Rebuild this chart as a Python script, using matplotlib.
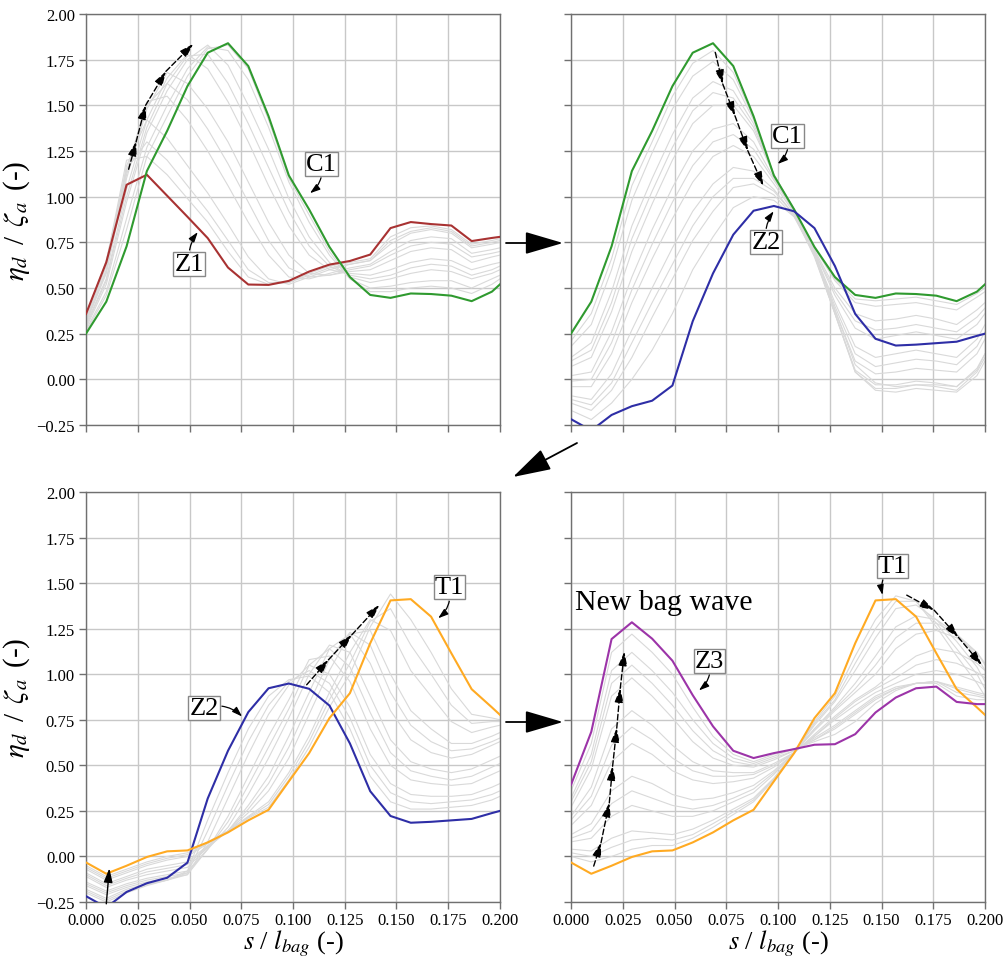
import matplotlib
matplotlib.use('Agg')
import matplotlib.pyplot as plt
from matplotlib.patches import FancyArrowPatch

plt.rcParams['font.family'] = ['Liberation Serif', 'DejaVu Serif']
plt.rcParams['mathtext.fontset'] = 'stix'

# ---------------- data ----------------
s = [0.0, 0.0098, 0.0196, 0.0294, 0.0392, 0.0490, 0.0588, 0.0686, 0.0784, 0.0882,
     0.0980, 0.1078, 0.1176, 0.1275, 0.1373, 0.1471, 0.1569, 0.1667, 0.1765, 0.1863,
     0.1961, 0.2000]

Z1 = [0.358, 0.641, 1.065, 1.12, 1.005, 0.89, 0.773, 0.612, 0.519, 0.517, 0.539,
      0.59, 0.628, 0.648, 0.683, 0.828, 0.861, 0.85, 0.842, 0.757, 0.774, 0.78]
C1 = [0.25, 0.425, 0.728, 1.14, 1.36, 1.605, 1.788, 1.84, 1.715, 1.44, 1.116,
      0.93, 0.725, 0.56, 0.462, 0.446, 0.47, 0.467, 0.458, 0.428, 0.48, 0.52]
Z2 = [-0.218, -0.28, -0.195, -0.147, -0.117, -0.034, 0.318, 0.58, 0.792, 0.923, 0.949,
      0.92, 0.828, 0.62, 0.358, 0.222, 0.185, 0.19, 0.198, 0.206, 0.238, 0.25]
T1 = [-0.033, -0.095, -0.051, -0.003, 0.028, 0.033, 0.077, 0.132, 0.198, 0.256, 0.412,
      0.567, 0.759, 0.896, 1.17, 1.405, 1.412, 1.316, 1.115, 0.918, 0.818, 0.777]
Z3 = [0.393, 0.684, 1.193, 1.285, 1.195, 1.074, 0.885, 0.714, 0.58, 0.54, 0.567,
      0.589, 0.613, 0.616, 0.671, 0.79, 0.872, 0.923, 0.932, 0.848, 0.836, 0.836]

grey_p1 = [
    [0.34, 0.64, 1.20, 1.22, 1.12, 0.99, 0.86, 0.70, 0.56, 0.52, 0.53, 0.58, 0.62, 0.64, 0.66, 0.78, 0.83, 0.84, 0.82, 0.74, 0.76, 0.77],
    [0.35, 0.65, 1.15, 1.30, 1.20, 1.06, 0.92, 0.76, 0.60, 0.53, 0.53, 0.57, 0.61, 0.63, 0.65, 0.76, 0.81, 0.83, 0.81, 0.73, 0.75, 0.76],
    [0.33, 0.62, 1.17, 1.42, 1.32, 1.17, 1.02, 0.85, 0.67, 0.55, 0.52, 0.56, 0.60, 0.63, 0.65, 0.74, 0.80, 0.82, 0.80, 0.72, 0.74, 0.75],
    [0.32, 0.60, 1.14, 1.52, 1.55, 1.42, 1.25, 1.06, 0.86, 0.68, 0.56, 0.55, 0.58, 0.61, 0.63, 0.70, 0.76, 0.78, 0.77, 0.69, 0.71, 0.72],
    [0.31, 0.59, 1.12, 1.50, 1.62, 1.53, 1.37, 1.18, 0.97, 0.76, 0.61, 0.56, 0.57, 0.60, 0.62, 0.68, 0.73, 0.75, 0.74, 0.67, 0.69, 0.70],
    [0.31, 0.58, 1.10, 1.48, 1.68, 1.62, 1.48, 1.30, 1.08, 0.86, 0.68, 0.58, 0.57, 0.59, 0.60, 0.65, 0.70, 0.72, 0.71, 0.64, 0.67, 0.68],
    [0.30, 0.55, 1.04, 1.42, 1.65, 1.78, 1.70, 1.52, 1.30, 1.06, 0.84, 0.68, 0.60, 0.58, 0.57, 0.60, 0.64, 0.66, 0.65, 0.60, 0.63, 0.64],
    [0.29, 0.54, 1.00, 1.38, 1.62, 1.77, 1.78, 1.62, 1.40, 1.16, 0.92, 0.73, 0.62, 0.57, 0.55, 0.57, 0.61, 0.63, 0.62, 0.57, 0.60, 0.62],
    [0.28, 0.52, 0.97, 1.35, 1.58, 1.75, 1.83, 1.72, 1.50, 1.26, 0.99, 0.78, 0.64, 0.56, 0.53, 0.55, 0.58, 0.60, 0.59, 0.55, 0.58, 0.60],
    [0.27, 0.48, 0.88, 1.27, 1.50, 1.70, 1.82, 1.80, 1.64, 1.38, 1.08, 0.86, 0.68, 0.55, 0.50, 0.51, 0.53, 0.54, 0.54, 0.50, 0.55, 0.57],
    [0.26, 0.46, 0.82, 1.22, 1.44, 1.66, 1.81, 1.83, 1.70, 1.42, 1.10, 0.90, 0.70, 0.55, 0.48, 0.48, 0.50, 0.51, 0.50, 0.47, 0.52, 0.55],
]
grey_p2 = [
    [0.21, 0.36, 0.66, 1.06, 1.30, 1.55, 1.73, 1.80, 1.68, 1.43, 1.12, 0.93, 0.72, 0.55, 0.44, 0.43, 0.44, 0.45, 0.43, 0.41, 0.47, 0.50],
    [0.18, 0.30, 0.60, 0.98, 1.24, 1.48, 1.66, 1.74, 1.64, 1.42, 1.12, 0.93, 0.72, 0.54, 0.42, 0.40, 0.41, 0.42, 0.40, 0.38, 0.45, 0.48],
    [0.12, 0.20, 0.48, 0.84, 1.10, 1.34, 1.54, 1.63, 1.58, 1.40, 1.12, 0.93, 0.71, 0.50, 0.36, 0.32, 0.33, 0.35, 0.33, 0.30, 0.38, 0.42],
    [0.10, 0.16, 0.42, 0.77, 1.03, 1.27, 1.47, 1.57, 1.54, 1.38, 1.12, 0.93, 0.70, 0.48, 0.32, 0.27, 0.28, 0.30, 0.28, 0.26, 0.34, 0.39],
    [0.07, 0.12, 0.37, 0.70, 0.96, 1.20, 1.40, 1.50, 1.50, 1.36, 1.12, 0.92, 0.70, 0.46, 0.28, 0.22, 0.24, 0.26, 0.24, 0.22, 0.30, 0.36],
    [0.02, 0.04, 0.26, 0.56, 0.82, 1.05, 1.25, 1.37, 1.40, 1.30, 1.10, 0.92, 0.69, 0.42, 0.18, 0.12, 0.14, 0.16, 0.14, 0.12, 0.22, 0.30],
    [-0.01, 0.00, 0.20, 0.49, 0.74, 0.97, 1.17, 1.30, 1.34, 1.26, 1.09, 0.92, 0.69, 0.40, 0.14, 0.07, 0.09, 0.11, 0.10, 0.08, 0.18, 0.26],
    [-0.04, -0.04, 0.14, 0.42, 0.66, 0.88, 1.08, 1.22, 1.28, 1.22, 1.07, 0.91, 0.68, 0.38, 0.10, 0.03, 0.04, 0.06, 0.05, 0.04, 0.14, 0.22],
    [-0.09, -0.11, 0.03, 0.27, 0.50, 0.72, 0.92, 1.07, 1.16, 1.14, 1.04, 0.90, 0.67, 0.36, 0.05, -0.03, -0.03, -0.01, -0.02, -0.04, 0.06, 0.14],
    [-0.11, -0.14, -0.02, 0.20, 0.42, 0.63, 0.84, 1.00, 1.10, 1.10, 1.03, 0.90, 0.68, 0.36, 0.04, -0.05, -0.05, -0.03, -0.04, -0.06, 0.04, 0.12],
    [-0.13, -0.17, -0.06, 0.12, 0.34, 0.55, 0.76, 0.92, 1.05, 1.07, 1.01, 0.89, 0.68, 0.36, 0.04, -0.06, -0.07, -0.05, -0.06, -0.07, 0.02, 0.10],
    [-0.17, -0.22, -0.13, 0.00, 0.16, 0.36, 0.60, 0.78, 0.94, 1.00, 0.98, 0.89, 0.70, 0.38, 0.08, -0.02, -0.04, -0.03, -0.03, -0.04, 0.05, 0.14],
]
grey_p3 = [
    [-0.20, -0.25, -0.20, -0.16, -0.13, -0.08, 0.20, 0.46, 0.70, 0.88, 0.97, 0.99, 0.90, 0.70, 0.44, 0.30, 0.26, 0.26, 0.27, 0.28, 0.31, 0.33],
    [-0.19, -0.24, -0.19, -0.155, -0.13, -0.09, 0.14, 0.39, 0.63, 0.83, 0.96, 1.02, 0.95, 0.76, 0.50, 0.35, 0.30, 0.29, 0.30, 0.31, 0.34, 0.36],
    [-0.18, -0.23, -0.18, -0.15, -0.13, -0.10, 0.08, 0.32, 0.56, 0.78, 0.94, 1.05, 1.00, 0.82, 0.56, 0.40, 0.34, 0.33, 0.33, 0.34, 0.38, 0.40],
    [-0.16, -0.21, -0.17, -0.14, -0.12, -0.10, 0.04, 0.22, 0.44, 0.66, 0.86, 1.08, 1.10, 0.96, 0.70, 0.50, 0.42, 0.40, 0.39, 0.40, 0.45, 0.47],
    [-0.15, -0.20, -0.16, -0.13, -0.11, -0.09, 0.04, 0.19, 0.39, 0.60, 0.81, 1.05, 1.14, 1.04, 0.79, 0.57, 0.47, 0.44, 0.42, 0.44, 0.49, 0.51],
    [-0.14, -0.19, -0.15, -0.12, -0.10, -0.08, 0.04, 0.16, 0.34, 0.54, 0.76, 1.00, 1.16, 1.12, 0.88, 0.64, 0.52, 0.48, 0.46, 0.48, 0.53, 0.55],
    [-0.11, -0.17, -0.13, -0.10, -0.08, -0.06, 0.05, 0.14, 0.28, 0.44, 0.66, 0.90, 1.14, 1.22, 1.06, 0.80, 0.64, 0.57, 0.54, 0.56, 0.61, 0.63],
    [-0.10, -0.16, -0.12, -0.085, -0.065, -0.045, 0.055, 0.14, 0.26, 0.40, 0.60, 0.84, 1.08, 1.23, 1.16, 0.90, 0.72, 0.63, 0.58, 0.59, 0.63, 0.65],
    [-0.09, -0.15, -0.11, -0.07, -0.05, -0.03, 0.06, 0.14, 0.24, 0.36, 0.54, 0.78, 1.02, 1.22, 1.24, 1.00, 0.80, 0.70, 0.62, 0.62, 0.66, 0.68],
    [-0.07, -0.13, -0.09, -0.05, -0.02, 0.00, 0.07, 0.14, 0.22, 0.30, 0.46, 0.66, 0.90, 1.12, 1.30, 1.24, 1.02, 0.88, 0.74, 0.68, 0.71, 0.72],
    [-0.06, -0.12, -0.08, -0.04, -0.01, 0.01, 0.075, 0.14, 0.215, 0.285, 0.44, 0.63, 0.86, 1.06, 1.29, 1.36, 1.16, 1.00, 0.83, 0.73, 0.74, 0.74],
    [-0.05, -0.11, -0.07, -0.03, 0.00, 0.02, 0.08, 0.14, 0.21, 0.27, 0.42, 0.60, 0.82, 1.00, 1.26, 1.44, 1.30, 1.12, 0.92, 0.78, 0.76, 0.75],
]
grey_p4 = [
    [0.00, -0.03, 0.00, 0.04, 0.06, 0.06, 0.10, 0.16, 0.23, 0.30, 0.42, 0.57, 0.74, 0.88, 1.10, 1.30, 1.43, 1.40, 1.26, 1.10, 0.95, 0.88],
    [0.02, 0.00, 0.05, 0.09, 0.10, 0.09, 0.12, 0.18, 0.245, 0.31, 0.425, 0.57, 0.73, 0.86, 1.06, 1.25, 1.40, 1.40, 1.28, 1.14, 1.00, 0.92],
    [0.04, 0.03, 0.10, 0.14, 0.13, 0.12, 0.15, 0.20, 0.26, 0.32, 0.43, 0.57, 0.72, 0.85, 1.02, 1.20, 1.36, 1.38, 1.30, 1.18, 1.04, 0.96],
    [0.08, 0.10, 0.22, 0.28, 0.25, 0.22, 0.22, 0.25, 0.30, 0.35, 0.45, 0.57, 0.70, 0.82, 0.95, 1.10, 1.26, 1.32, 1.30, 1.22, 1.10, 1.02],
    [0.10, 0.14, 0.29, 0.36, 0.32, 0.28, 0.26, 0.28, 0.32, 0.37, 0.46, 0.57, 0.70, 0.81, 0.92, 1.05, 1.20, 1.28, 1.28, 1.22, 1.12, 1.05],
    [0.12, 0.18, 0.36, 0.44, 0.40, 0.34, 0.31, 0.32, 0.35, 0.39, 0.47, 0.57, 0.69, 0.80, 0.90, 1.00, 1.14, 1.22, 1.24, 1.20, 1.12, 1.06],
    [0.17, 0.28, 0.52, 0.62, 0.56, 0.47, 0.42, 0.40, 0.41, 0.43, 0.49, 0.57, 0.67, 0.77, 0.86, 0.93, 1.02, 1.10, 1.14, 1.12, 1.06, 1.02],
    [0.20, 0.33, 0.61, 0.71, 0.64, 0.54, 0.47, 0.44, 0.44, 0.45, 0.50, 0.57, 0.66, 0.76, 0.85, 0.92, 0.98, 1.05, 1.08, 1.06, 1.01, 0.98],
    [0.22, 0.38, 0.70, 0.80, 0.72, 0.61, 0.52, 0.47, 0.46, 0.46, 0.51, 0.57, 0.66, 0.75, 0.83, 0.90, 0.95, 1.00, 1.02, 1.00, 0.96, 0.94],
    [0.27, 0.48, 0.88, 0.98, 0.88, 0.76, 0.63, 0.54, 0.50, 0.49, 0.53, 0.58, 0.65, 0.72, 0.80, 0.88, 0.93, 0.95, 0.96, 0.93, 0.90, 0.89],
    [0.30, 0.52, 0.95, 1.05, 0.95, 0.83, 0.69, 0.58, 0.52, 0.50, 0.54, 0.58, 0.64, 0.71, 0.79, 0.87, 0.92, 0.95, 0.96, 0.92, 0.89, 0.88],
    [0.32, 0.56, 1.02, 1.12, 1.02, 0.90, 0.75, 0.62, 0.54, 0.51, 0.55, 0.59, 0.64, 0.70, 0.78, 0.86, 0.92, 0.95, 0.96, 0.90, 0.88, 0.87],
    [0.36, 0.62, 1.12, 1.22, 1.12, 1.00, 0.82, 0.66, 0.56, 0.52, 0.56, 0.59, 0.63, 0.67, 0.74, 0.84, 0.91, 0.95, 0.95, 0.88, 0.86, 0.86],
]

x_ticks = [0.0, 0.025, 0.05, 0.075, 0.1, 0.125, 0.15, 0.175, 0.2]
y_ticks = [-0.25, 0.0, 0.25, 0.5, 0.75, 1.0, 1.25, 1.5, 1.75, 2.0]

# ---------------- styles ----------------
GREEN = '#2f9a2f'
RED = '#a83232'
BLUE = '#2e2ea6'
ORANGE = '#ffaa22'
PURPLE = '#9c34a8'
GREY = '#d9d9d9'

fig = plt.figure(figsize=(10.06, 9.62), dpi=100)
W, H = 1006.0, 962.0
def axpos(l, t, r, b):
    return [l / W, 1 - b / H, (r - l) / W, (b - t) / H]

ax1 = fig.add_axes(axpos(86, 15, 500, 426))
ax2 = fig.add_axes(axpos(571, 15, 985, 426))
ax3 = fig.add_axes(axpos(86, 493, 500, 903))
ax4 = fig.add_axes(axpos(571, 493, 985, 903))

def style(ax, xlab, ylab):
    ax.set_xlim(0, 0.2)
    ax.set_ylim(-0.25, 2.0)
    ax.set_xticks(x_ticks)
    ax.set_yticks(y_ticks)
    ax.grid(True, color='#c8c8c8', lw=1.0, zorder=0)
    ax.set_axisbelow(True)
    for sp in ax.spines.values():
        sp.set_color('#707070')
        sp.set_linewidth(1.0)
    ax.tick_params(direction='out', length=5, width=1, color='#707070',
                   labelsize=12, pad=3)
    ax.tick_params(axis='x', pad=2)
    if xlab:
        ax.set_xticklabels(['%.3f' % v for v in x_ticks])
        ax.set_xlabel(r'$s$ / $l_{bag}$ (-)', fontsize=19, labelpad=0)
    else:
        ax.set_xticklabels([])
    if ylab:
        ax.set_yticklabels([('%.2f' % v).replace('-', '\u2212') for v in y_ticks])
        ax.set_ylabel(r'$\eta_d\,$ / $\,\zeta_a\,$ (-)', fontsize=21, labelpad=3)
    else:
        ax.set_yticklabels([])

def greys(ax, curves):
    for c in curves:
        ax.plot(s, c, color=GREY, lw=0.8, zorder=2)

def chain(ax, pts):
    for (x0, y0), (x1, y1) in zip(pts[:-1], pts[1:]):
        ax.annotate('', xy=(x1, y1), xytext=(x0, y0),
                    arrowprops=dict(arrowstyle='-|>,head_length=0.7,head_width=0.22',
                                    linestyle=(0, (4, 2)), lw=1.0, color='black',
                                    shrinkA=0, shrinkB=0, mutation_scale=12),
                    zorder=6)

BOX = dict(boxstyle='square,pad=0.04', fc='white', ec='#888888', lw=1.0)
def label(ax, text, xytext, xy, rad):
    ax.annotate(text, xy=xy, xytext=xytext, ha='center', va='center',
                fontsize=19, bbox=BOX, zorder=7,
                arrowprops=dict(arrowstyle='-|>,head_length=0.6,head_width=0.2',
                                connectionstyle='arc3,rad=%s' % rad, lw=0.9,
                                color='black', mutation_scale=10, shrinkA=1, shrinkB=0))

# panel 1
style(ax1, False, True)
greys(ax1, grey_p1)
ax1.plot(s, Z1, color=RED, lw=1.5, zorder=4)
ax1.plot(s, C1, color=GREEN, lw=1.5, zorder=4)
chain(ax1, [(0.0206, 1.15), (0.0242, 1.30), (0.0288, 1.50), (0.0386, 1.686), (0.0518, 1.836)])
label(ax1, 'C1', (0.1138, 1.18), (0.1082, 1.019), -0.3)
label(ax1, 'Z1', (0.0498, 0.632), (0.054, 0.806), -0.2)

# panel 2
style(ax2, False, False)
greys(ax2, grey_p2)
ax2.plot(s, C1, color=GREEN, lw=1.5, zorder=4)
ax2.plot(s, Z2, color=BLUE, lw=1.5, zorder=4)
chain(ax2, [(0.0697, 1.79), (0.0733, 1.617), (0.0792, 1.443), (0.0854, 1.252), (0.0929, 1.06)])
label(ax2, 'C1', (0.1047, 1.334), (0.0998, 1.179), -0.3)
label(ax2, 'Z2', (0.0942, 0.75), (0.0979, 0.92), -0.2)

# panel 3
style(ax3, True, True)
greys(ax3, grey_p3)
ax3.plot(s, Z2, color=BLUE, lw=1.5, zorder=4)
ax3.plot(s, T1, color=ORANGE, lw=1.5, zorder=4)
chain(ax3, [(0.1066, 0.942), (0.1171, 1.079), (0.1284, 1.216), (0.1417, 1.38)])
ax3.annotate('', xy=(0.0113, -0.065), xytext=(0.0098, -0.26),
             arrowprops=dict(arrowstyle='-|>,head_length=0.7,head_width=0.22', lw=1.0,
                             color='black', shrinkA=0, shrinkB=0, mutation_scale=12),
             annotation_clip=False, zorder=6)
label(ax3, 'Z2', (0.0571, 0.814), (0.0754, 0.768), -0.3)
label(ax3, 'T1', (0.1755, 1.477), (0.1701, 1.307), -0.3)

# panel 4
style(ax4, True, False)
greys(ax4, grey_p4)
ax4.plot(s, T1, color=ORANGE, lw=1.5, zorder=4)
ax4.plot(s, Z3, color=PURPLE, lw=1.5, zorder=4)
chain(ax4, [(0.01097, -0.053), (0.0145, 0.075), (0.0185, 0.294), (0.0201, 0.495),
            (0.0221, 0.704), (0.0238, 0.923), (0.0258, 1.124)])
chain(ax4, [(0.1622, 1.434), (0.1754, 1.352), (0.1871, 1.203), (0.1984, 1.051)])
label(ax4, 'T1', (0.1553, 1.594), (0.1505, 1.435), 0.3)
label(ax4, 'Z3', (0.0669, 1.073), (0.0618, 0.911), -0.3)
ax4.text(0.0021, 1.399, 'New bag wave', fontsize=21.5, ha='left', va='center', zorder=7)

# arrows between panels
def fig_arrow(p0, p1):
    a = FancyArrowPatch((p0[0] / W, 1 - p0[1] / H), (p1[0] / W, 1 - p1[1] / H),
                        transform=fig.transFigure,
                        arrowstyle='-|>,head_length=1.7,head_width=0.5',
                        mutation_scale=14, lw=1.3, color='black',
                        shrinkA=0, shrinkB=0)
    fig.add_artist(a)

fig_arrow((506, 244), (563, 244))
fig_arrow((577, 444), (513, 478))
fig_arrow((506, 723), (563, 723))

fig.savefig('out.png', dpi=100)
